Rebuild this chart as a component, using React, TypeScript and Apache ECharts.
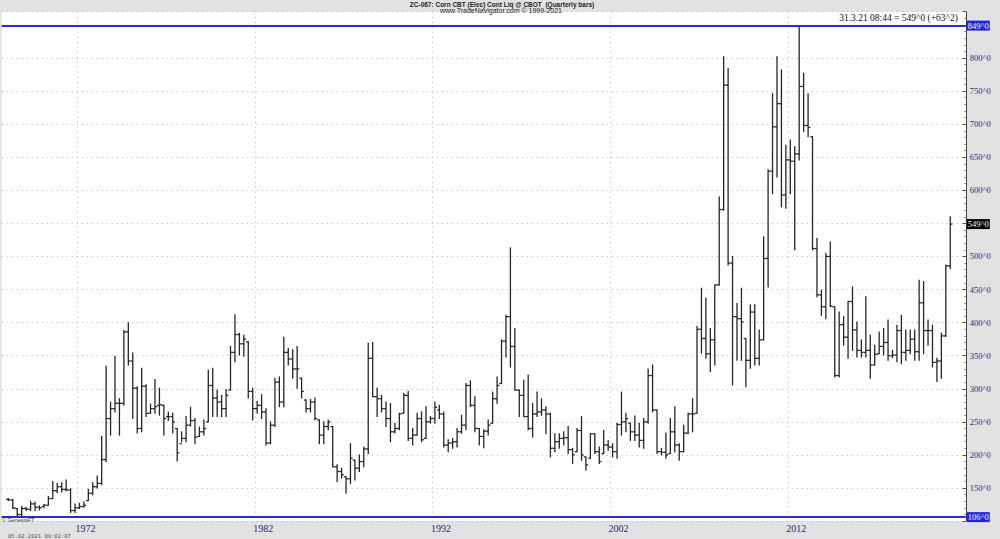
import React, { useEffect, useRef } from 'react';
import * as echarts from 'echarts';

const FIRST_YEAR = 1968;
const LABEL_YEARS = [1972, 1982, 1992, 2002, 2012];
const TITLE = 'ZC-067: Corn CBT (Elec) Cont Liq @ CBOT  (Quarterly bars)';
const SUBTITLE = 'www.TradeNavigator.com \u00a9 1999-2021';
const LAST_STAMP = '31.3.21 08:44';
const PRINT_STAMP = '05.02.2021 09:02:07';
const VENDOR = '\u00a9 GenesisFT';

// Quarterly OHLC, 1968 Q1 .. 2021 Q1 (16 values per line = 4 years)
const opens = [
  133, 132, 119, 110, 119, 118, 126, 121, 122, 124, 134, 146, 152, 148, 147, 116,
  120, 122, 131, 142, 152, 157, 193, 255, 270, 278, 278, 386, 342, 301, 240, 304,
  263, 270, 275, 275, 258, 258, 240, 217, 225, 245, 252, 228, 235, 250, 305, 286,
  280, 270, 298, 355, 382, 368, 371, 296, 270, 275, 265, 218, 245, 310, 280, 355,
  345, 330, 316, 283, 270, 280, 253, 230, 243, 243, 182, 175, 167, 164, 192, 180,
  190, 209, 346, 288, 285, 270, 255, 235, 240, 263, 290, 225, 230, 255, 225, 250,
  255, 268, 262, 215, 218, 220, 235, 245, 305, 275, 240, 228, 236, 248, 285, 308,
  372, 409, 364, 298, 290, 258, 240, 262, 265, 268, 262, 210, 220, 225, 226, 208,
  205, 237, 197, 195, 232, 205, 202, 215, 212, 205, 246, 250, 248, 235, 230, 222,
  250, 320, 268, 205, 204, 202, 235, 215, 205, 233, 262, 263, 390, 376, 353, 374,
  457, 571, 759, 490, 409, 406, 376, 343, 416, 346, 374, 497, 629, 696, 731, 593,
  646, 644, 655, 757, 698, 681, 512, 442, 424, 500, 424, 320, 397, 378, 432, 389,
  358, 355, 358, 336, 353, 364, 370, 350, 351, 388, 355, 358, 375, 356, 430, 388,
  388, 340, 342, 380, 485.75,
];
const highs = [
  134, 133, 119, 122, 121, 130, 129, 123, 125, 137, 160, 157, 158, 162, 149, 126,
  127, 129, 148, 158, 168, 228, 334, 280, 349, 285, 388, 400, 354, 303, 331, 306,
  277, 314, 301, 275, 265, 263, 240, 235, 258, 272, 255, 242, 253, 328, 331, 298,
  290, 299, 364, 412, 384, 381, 371, 301, 281, 291, 270, 250, 316, 318, 378, 361,
  359, 364, 316, 283, 284, 286, 253, 250, 253, 243, 185, 180, 167, 217, 192, 200,
  212, 369, 370, 301, 290, 280, 278, 248, 263, 293, 296, 240, 263, 265, 273, 258,
  280, 275, 265, 223, 225, 240, 260, 308, 312, 288, 240, 238, 253, 295, 318, 374,
  411, 513, 391, 298, 313, 321, 278, 295, 285, 273, 263, 232, 232, 235, 243, 210,
  240, 258, 197, 232, 232, 212, 237, 222, 217, 248, 295, 263, 248, 259, 248, 255,
  330, 336, 268, 210, 233, 255, 273, 217, 245, 263, 285, 394, 452, 437, 391, 457,
  590, 802, 784, 500, 429, 452, 376, 427, 427, 389, 530, 631, 746, 802, 782, 668,
  676, 666, 849, 777, 746, 681, 527, 449, 505, 522, 424, 416, 409, 432, 454, 401,
  374, 439, 381, 366, 386, 391, 404, 358, 396, 411, 389, 389, 389, 464, 462, 404,
  396, 346, 384, 487, 560,
];
const lows = [
  131, 119, 106, 107, 116, 116, 116, 117, 120, 124, 134, 143, 144, 146, 113, 113,
  119, 121, 131, 140, 150, 155, 190, 230, 265, 230, 275, 336, 255, 233, 235, 258,
  263, 263, 260, 230, 252, 233, 191, 220, 220, 244, 217, 228, 230, 250, 258, 258,
  258, 258, 298, 341, 351, 349, 286, 253, 263, 255, 215, 217, 243, 273, 273, 336,
  316, 301, 286, 265, 265, 253, 217, 217, 238, 182, 160, 165, 142, 157, 162, 175,
  182, 202, 288, 258, 265, 243, 220, 233, 238, 263, 222, 215, 230, 220, 225, 248,
  248, 255, 212, 205, 210, 212, 233, 238, 273, 235, 215, 211, 230, 248, 278, 308,
  348, 333, 298, 258, 258, 238, 227, 258, 260, 232, 197, 205, 210, 215, 202, 187,
  205, 192, 177, 195, 202, 187, 202, 207, 197, 195, 230, 235, 222, 222, 212, 210,
  248, 265, 202, 200, 195, 202, 205, 192, 205, 232, 235, 263, 354, 346, 326, 336,
  457, 570, 487, 306, 343, 343, 303, 331, 336, 336, 374, 454, 595, 620, 575, 573,
  595, 510, 646, 689, 681, 510, 439, 411, 406, 424, 318, 318, 366, 346, 358, 348,
  348, 348, 316, 336, 353, 351, 343, 347, 341, 338, 343, 353, 343, 343, 353, 366,
  333, 311, 316, 379, 482,
];
const closes = [
  132, 120, 110, 119, 118, 126, 121, 120, 124, 134, 146, 152, 148, 147, 116, 120,
  122, 124, 142, 152, 157, 193, 255, 270, 278, 278, 386, 342, 301, 240, 304, 263,
  270, 273, 276, 255, 258, 250, 203, 225, 245, 252, 227, 235, 240, 305, 286, 280,
  270, 290, 355, 382, 368, 375, 296, 270, 275, 265, 218, 245, 310, 280, 355, 345,
  330, 330, 296, 270, 280, 255, 230, 243, 250, 182, 175, 170, 164, 195, 180, 190,
  209, 346, 288, 285, 270, 255, 235, 240, 262, 290, 225, 230, 255, 223, 250, 255,
  272, 262, 215, 218, 220, 235, 245, 305, 275, 240, 228, 236, 245, 285, 305, 372,
  409, 364, 298, 290, 258, 240, 262, 265, 268, 262, 210, 220, 225, 226, 208, 200,
  237, 200, 185, 232, 205, 190, 215, 212, 205, 246, 250, 255, 235, 230, 222, 250,
  320, 268, 205, 204, 200, 235, 215, 205, 233, 262, 262, 390, 376, 353, 374, 457,
  571, 759, 490, 409, 406, 401, 343, 416, 346, 374, 497, 629, 696, 731, 593, 646,
  644, 655, 757, 698, 695, 512, 442, 424, 500, 425, 320, 397, 378, 432, 389, 358,
  355, 358, 336, 352, 364, 370, 350, 351, 388, 355, 358, 375, 356, 430, 388, 388,
  340, 342, 380, 485.75, 549,
];

const quarters: string[] = closes.map(
  (_, i) => `${FIRST_YEAR + Math.floor(i / 4)}Q${(i % 4) + 1}`
);
// one empty slot before the first bar and three after the last, as in the reference
const categories: string[] = ['', ...quarters, '', '', ''];

const fmtPrice = (v: number) => {
  const whole = Math.floor(v);
  const eighths = Math.round((v - whole) * 8);
  return `${whole}^${eighths}`;
};

const isYearMark = (v: string) =>
  typeof v === 'string' && v.endsWith('Q1') && LABEL_YEARS.includes(Number(v.slice(0, 4)));

export default function App() {
  const ref = useRef<HTMLDivElement>(null);

  useEffect(() => {
    if (!ref.current) return;
    const chart = echarts.init(ref.current, undefined, { renderer: 'svg' });

    const maxHigh = Math.max(...highs);
    const minLow = Math.min(...lows);
    const last = closes[closes.length - 1];
    const prev = closes[closes.length - 2];
    const change = last - prev;
    const lastLabelTick = Math.round(last / 50) * 50;

    const data = closes.map((c, i) => [i + 1, opens[i], highs[i], lows[i], c]);
    const barStyle = { stroke: '#262626', lineWidth: 1.3 };
    const labelFont = 'Liberation Serif';
    const axisBlue = '#2a2a72';
    const gridDot = { type: [1, 4], color: '#b4b4b4', width: 1 };

    chart.setOption({
      animation: false,
      backgroundColor: '#e2e2e2',
      grid: {
        left: 1.7,
        right: 34.2,
        top: 11.7,
        bottom: 17.9,
        show: true,
        backgroundColor: '#ffffff',
        borderWidth: 0,
      },
      xAxis: {
        type: 'category',
        data: categories,
        boundaryGap: true,
        axisLine: { show: false },
        axisTick: { show: false },
        axisLabel: {
          interval: (_i: number, v: string) => isYearMark(v),
          formatter: (v: string) => v.slice(0, 4),
          color: axisBlue,
          fontFamily: labelFont,
          fontSize: 10,
          margin: 2,
          padding: [0, 0, 0, 12],
        },
        splitLine: {
          show: true,
          interval: (_i: number, v: string) => isYearMark(v),
          lineStyle: gridDot,
        },
      },
      yAxis: {
        type: 'value',
        position: 'right',
        min: 100,
        max: 870,
        interval: 50,
        axisLine: { show: true, lineStyle: { color: '#444', width: 1 } },
        axisTick: { show: true, inside: true, length: 3, lineStyle: { color: '#444' } },
        minorTick: { show: true, splitNumber: 5, length: 1.5, lineStyle: { color: '#777' } },
        axisLabel: {
          color: axisBlue,
          fontFamily: labelFont,
          fontSize: 8.5,
          margin: 4,
          showMinLabel: false,
          showMaxLabel: false,
          formatter: (v: number) =>
            v >= 150 && v <= 800 && v !== lastLabelTick ? `${v}^0` : '',
        },
        splitLine: { show: true, lineStyle: gridDot },
      },
      graphic: [
        {
          type: 'text',
          x: 502,
          y: 4.5,
          silent: true,
          style: {
            text: TITLE,
            font: 'bold 6.5px "Liberation Sans"',
            fill: '#222',
            textAlign: 'center',
            textVerticalAlign: 'middle',
          },
        },
        {
          type: 'text',
          x: 501,
          y: 10.5,
          silent: true,
          style: {
            text: SUBTITLE,
            font: '7px "Liberation Sans"',
            fill: '#222',
            textAlign: 'center',
            textVerticalAlign: 'middle',
          },
        },
        {
          type: 'text',
          x: 958,
          y: 17.5,
          silent: true,
          z: 10,
          style: {
            text: `${LAST_STAMP} = ${fmtPrice(last)} (${change >= 0 ? '+' : '-'}${fmtPrice(Math.abs(change))})`,
            font: '9.5px "Liberation Serif"',
            fill: '#111',
            textAlign: 'right',
            textVerticalAlign: 'middle',
          },
        },
        {
          type: 'text',
          x: 2,
          y: 519.5,
          silent: true,
          z: 10,
          style: {
            text: VENDOR,
            font: '5.5px "Liberation Sans"',
            fill: '#333',
            textAlign: 'left',
            textVerticalAlign: 'middle',
          },
        },
        {
          type: 'text',
          x: 8,
          y: 535.5,
          silent: true,
          style: {
            text: PRINT_STAMP,
            font: '5.5px "DejaVu Sans Mono"',
            fill: '#555',
            textAlign: 'left',
            textVerticalAlign: 'middle',
          },
        },
      ],
      series: [
        {
          type: 'custom',
          name: 'ZC',
          data,
          encode: { x: 0, y: [1, 2, 3, 4] },
          clip: false,
          renderItem: (_params: any, api: any) => {
            const idx = api.value(0);
            const pO = api.coord([idx, api.value(1)]);
            const pH = api.coord([idx, api.value(2)]);
            const pL = api.coord([idx, api.value(3)]);
            const pC = api.coord([idx, api.value(4)]);
            const x = pH[0];
            return {
              type: 'group',
              children: [
                { type: 'line', shape: { x1: x, y1: pH[1] - 0.5, x2: x, y2: pL[1] + 0.5 }, style: barStyle },
                { type: 'line', shape: { x1: x - 2.2, y1: pO[1], x2: x, y2: pO[1] }, style: barStyle },
                { type: 'line', shape: { x1: x, y1: pC[1], x2: x + 2.2, y2: pC[1] }, style: barStyle },
              ],
            };
          },
          markLine: {
            silent: true,
            symbol: ['none', 'none'],
            label: {
              show: true,
              position: 'end',
              distance: 1,
              fontFamily: labelFont,
              fontSize: 8.5,
              padding: [1, 1, 0, 1],
              color: '#fff',
            },
            data: [
              {
                yAxis: maxHigh,
                lineStyle: { color: '#2b2bc8', width: 2, type: 'solid' },
                label: { formatter: fmtPrice(maxHigh), backgroundColor: '#2424d8' },
              },
              {
                yAxis: minLow,
                lineStyle: { color: '#2b2bc8', width: 2, type: 'solid' },
                label: { formatter: fmtPrice(minLow), backgroundColor: '#2424d8' },
              },
              {
                yAxis: last,
                lineStyle: { color: 'rgba(0,0,0,0)', width: 1, type: 'solid' },
                label: { formatter: fmtPrice(last), backgroundColor: '#000', color: '#fff' },
              },
            ],
          },
        },
      ],
    });

    return () => chart.dispose();
  }, []);

  return (
    <div
      ref={ref}
      style={{ position: 'fixed', left: 0, top: 0, width: 1000, height: 539 }}
    />
  );
}
